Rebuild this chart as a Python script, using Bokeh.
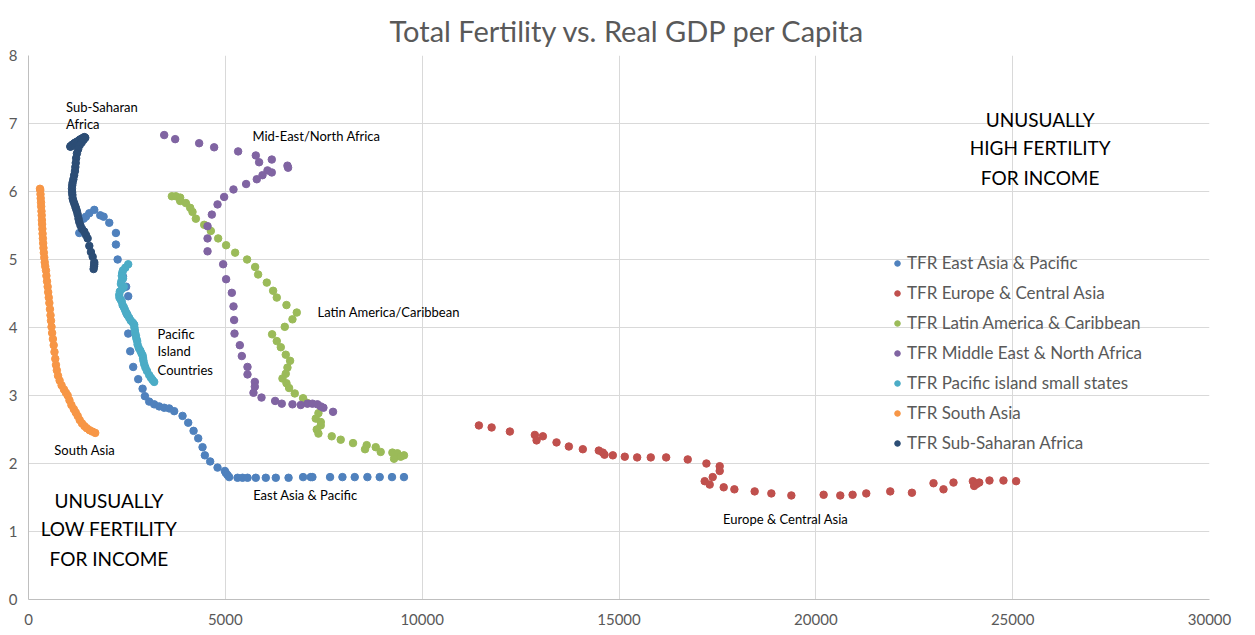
from bokeh.plotting import figure
from bokeh.models import Legend, LegendItem, FixedTicker, Range1d
from bokeh.core.properties import value
from bokeh.embed import file_html
from bokeh.resources import INLINE

FONT = "Lato"

# ---------------- data ----------------
series_names = ["TFR East Asia & Pacific", "TFR Europe & Central Asia",
                "TFR Latin America & Caribbean", "TFR Middle East & North Africa",
                "TFR Pacific island small states", "TFR South Asia",
                "TFR Sub-Saharan Africa"]
series_colors = ["#4F81BD", "#C0504D", "#9BBB59", "#8064A2", "#4BACC6", "#F79646", "#2C4D75"]

eap_gdp = [1290, 1400, 1459, 1544, 1671, 1823, 1908, 2052, 2221, 2221, 2264, 2400, 2480, 2533, 2500,
           2533, 2584, 2660, 2787, 2898, 2957, 3066, 3193, 3320, 3447, 3574, 3701, 3913, 4057, 4193,
           4311, 4421, 4480, 4615, 4802, 4988, 5013, 5056, 5097, 5310, 5437, 5564, 5774, 6028, 6282,
           6606, 6975, 7170, 7212, 7660, 7975, 8287, 8609, 8921, 9234, 9538]
eap_tfr = [5.39, 5.60, 5.63, 5.68, 5.73, 5.65, 5.63, 5.54, 5.39, 5.22, 5.00, 4.75, 4.60, 4.46, 4.20,
           3.91, 3.65, 3.42, 3.24, 3.10, 2.99, 2.91, 2.87, 2.84, 2.82, 2.81, 2.77, 2.70, 2.60, 2.48,
           2.37, 2.24, 2.12, 2.03, 1.94, 1.89, 1.86, 1.83, 1.80, 1.79, 1.79, 1.79, 1.79, 1.79, 1.79,
           1.79, 1.80, 1.80, 1.80, 1.80, 1.80, 1.80, 1.80, 1.80, 1.80, 1.80]

eca_gdp = [11441, 11764, 12228, 12862, 12906, 13066, 13413, 13726, 14081, 14487, 14589, 14632, 14843,
           15147, 15461, 15807, 16198, 16746, 17221, 17558, 17558, 17380, 17177, 17304, 17660, 17931,
           18446, 18870, 19378, 20198, 20621, 20934, 21281, 21890, 22441, 22989, 23243, 23497, 23989,
           24022, 24090, 24151, 24411, 24766, 25088]
eca_tfr = [2.56, 2.53, 2.47, 2.42, 2.34, 2.40, 2.31, 2.25, 2.21, 2.19, 2.16, 2.13, 2.12,
           2.10, 2.09, 2.09, 2.09, 2.06, 2.00, 1.96, 1.89, 1.80, 1.74, 1.69, 1.65, 1.62,
           1.59, 1.56, 1.53, 1.54, 1.53, 1.54, 1.56, 1.59, 1.57, 1.71, 1.62, 1.72, 1.74,
           1.67, 1.70, 1.72, 1.75, 1.75, 1.74]

lac_gdp = [3642, 3743, 3853, 3853, 3997, 4107, 4166, 4251, 4463, 4632, 4818, 5020, 5249, 5553, 5757,
           5833, 6053, 6214, 6307, 6553, 6815, 6705, 6510, 6188, 6307, 6409, 6535, 6645, 6578, 6535,
           6451, 6553, 6620, 6764, 6975, 7085, 7365, 7297, 7424, 7424, 7322, 7365, 7703, 7931, 8244,
           8591, 8549, 8820, 8946, 9243, 9370, 9538, 9454, 9285]
lac_tfr = [5.93, 5.93, 5.91, 5.86, 5.83, 5.76, 5.70, 5.60, 5.51, 5.42, 5.31, 5.21, 5.10, 5.00, 4.89,
           4.78, 4.66, 4.54, 4.44, 4.33, 4.22, 4.12, 4.01, 3.90, 3.80, 3.71, 3.60, 3.51, 3.41, 3.32,
           3.25, 3.18, 3.11, 3.03, 2.96, 2.89, 2.74, 2.66, 2.61, 2.56, 2.50, 2.44, 2.40, 2.35, 2.30,
           2.27, 2.21, 2.24, 2.17, 2.16, 2.15, 2.12, 2.10, 2.07]

mena_gdp = [3447, 3726, 4335, 4716, 5325, 5774, 5858, 6180, 6578, 6594, 6180, 6071, 5944, 5799, 5528,
            5207, 4970, 4802, 4657, 4548, 4548, 4548, 4945, 5020, 5165, 5208, 5223, 5233, 5368, 5419,
            5563, 5563, 5749, 5749, 5715, 5919, 6265, 6434, 6705, 6916, 7085, 7212, 7339, 7424, 7492,
            7736]
mena_tfr = [6.83, 6.77, 6.71, 6.65, 6.59, 6.53, 6.43, 6.47, 6.38, 6.35, 6.28, 6.31, 6.24, 6.18, 6.11,
            6.03, 5.92, 5.81, 5.66, 5.49, 5.31, 5.12, 4.93, 4.71, 4.51, 4.31, 4.11, 3.91, 3.74, 3.58,
            3.42, 3.31, 3.20, 3.13, 3.04, 2.97, 2.92, 2.88, 2.87, 2.86, 2.88, 2.88, 2.87, 2.84, 2.82,
            2.76]

pis_gdp = [2533, 2460, 2400, 2380, 2370, 2400, 2360, 2348, 2420, 2380, 2320, 2305, 2310, 2340, 2370,
           2390, 2420, 2450, 2480, 2517, 2560, 2600, 2650, 2686, 2690, 2700, 2710, 2728, 2740, 2760,
           2771, 2800, 2840, 2870, 2898, 2910, 2920, 2940, 2970, 3010, 3066, 3110, 3150, 3193]
pis_tfr = [4.93, 4.88, 4.84, 4.80, 4.76, 4.72, 4.68, 4.64, 4.60, 4.57, 4.53, 4.48, 4.44, 4.41, 4.38,
           4.33, 4.30, 4.26, 4.22, 4.18, 4.14, 4.10, 4.07, 4.04, 4.00, 3.96, 3.92, 3.88, 3.84, 3.80,
           3.75, 3.70, 3.66, 3.62, 3.59, 3.55, 3.51, 3.46, 3.41, 3.36, 3.30, 3.26, 3.23, 3.20]

sas_gdp = [292, 300, 305, 310, 318, 322, 330, 335, 340, 345, 352, 358, 365, 372, 380, 390, 400, 412,
           425, 444, 455, 470, 487, 500, 515, 530, 545, 560, 571, 585, 600, 620, 640, 660, 680, 698,
           720, 750, 790, 840, 900, 950, 995, 1040, 1090, 1150, 1200, 1249, 1300, 1360, 1420, 1480,
           1550, 1620, 1695]
sas_tfr = [6.04, 6.02, 5.96, 5.90, 5.84, 5.78, 5.71, 5.65, 5.58, 5.52, 5.45, 5.38, 5.31, 5.24, 5.17,
           5.10, 5.03, 4.96, 4.90, 4.84, 4.76, 4.68, 4.60, 4.52, 4.44, 4.36, 4.27, 4.18, 4.10, 4.01,
           3.92, 3.83, 3.74, 3.64, 3.54, 3.45, 3.37, 3.29, 3.22, 3.15, 3.09, 3.04, 3.00, 2.93, 2.86,
           2.80, 2.75, 2.70, 2.64, 2.59, 2.55, 2.52, 2.49, 2.47, 2.45]

ssa_gdp = [1062, 1080, 1070, 1100, 1120, 1150, 1170, 1190, 1210, 1230, 1260, 1280, 1300, 1330, 1360,
           1390, 1420, 1442, 1400, 1350, 1300, 1260, 1230, 1210, 1200, 1190, 1180, 1160, 1140, 1120,
           1110, 1104, 1108, 1115, 1121, 1140, 1165, 1190, 1206, 1230, 1250, 1270, 1290, 1320, 1360,
           1417, 1460, 1502, 1545, 1586, 1630, 1671, 1671, 1665, 1654]
ssa_tfr = [6.66, 6.67, 6.66, 6.68, 6.69, 6.70, 6.71, 6.72, 6.72, 6.73, 6.74, 6.75, 6.76, 6.77, 6.78,
           6.79, 6.80, 6.79, 6.76, 6.72, 6.68, 6.62, 6.56, 6.49, 6.42, 6.36, 6.30, 6.24, 6.18, 6.13,
           6.09, 6.04, 5.99, 5.95, 5.90, 5.86, 5.82, 5.78, 5.75, 5.71, 5.66, 5.60, 5.55, 5.50, 5.45,
           5.41, 5.36, 5.31, 5.20, 5.11, 5.04, 4.96, 4.93, 4.90, 4.86]

x_ticks = [0, 5000, 10000, 15000, 20000, 25000, 30000]
y_ticks = [0, 1, 2, 3, 4, 5, 6, 7, 8]

title_text = "Total Fertility vs. Real GDP per Capita"

# region labels (text, and their anchor in data units)
region_text = ["Sub-Saharan", "Africa", "Mid-East/North Africa", "Latin America/Caribbean",
               "Pacific", "Island", "Countries", "South Asia", "East Asia & Pacific",
               "Europe & Central Asia"]
region_x = [952, 952, 5690, 7340, 3279, 3279, 3279, 655, 5706, 17644]
region_y = [7.25, 7.00, 6.81, 4.23, 3.91, 3.65, 3.38, 2.20, 1.53, 1.19]

note_text = ["UNUSUALLY", "HIGH FERTILITY", "FOR INCOME", "UNUSUALLY", "LOW FERTILITY", "FOR INCOME"]
note_x = [25698, 25698, 25698, 2043, 2043, 2043]
note_y = [7.06, 6.64, 6.21, 1.46, 1.04, 0.61]

# ---------------- figure ----------------
p = figure(width=1255, height=635, output_backend="svg", toolbar_location=None,
           x_range=Range1d(0, 30000), y_range=Range1d(0, 8),
           min_border_left=28, min_border_right=46, min_border_top=55, min_border_bottom=36)
p.outline_line_color = None
p.background_fill_color = "white"

p.title.text = title_text
p.title.align = "left"
p.title.offset = 361
p.title.standoff = 16
p.title.text_font = FONT
p.title.text_font_size = "29px"
p.title.text_font_style = "normal"
p.title.text_color = "#595959"

for ax in (p.xaxis[0], p.yaxis[0]):
    ax.major_tick_line_color = None
    ax.minor_tick_line_color = None
    ax.major_tick_out = 0
    ax.major_tick_in = 0
    ax.minor_tick_out = 0
    ax.axis_line_color = "#BFBFBF"
    ax.major_label_text_font = FONT
    ax.major_label_text_font_size = "15px"
    ax.major_label_text_color = "#595959"
p.xaxis.ticker = FixedTicker(ticks=x_ticks)
p.yaxis.ticker = FixedTicker(ticks=y_ticks)
p.xaxis.major_label_standoff = 14
p.yaxis.major_label_standoff = 11
p.xgrid.grid_line_color = "#D9D9D9"
p.ygrid.grid_line_color = "#D9D9D9"

all_x = [eap_gdp, eca_gdp, lac_gdp, mena_gdp, pis_gdp, sas_gdp, ssa_gdp]
all_y = [eap_tfr, eca_tfr, lac_tfr, mena_tfr, pis_tfr, sas_tfr, ssa_tfr]

items = []
for name, col, xs, ys in zip(series_names, series_colors, all_x, all_y):
    r = p.scatter(xs, ys, size=7.5, color=col, line_color=col)
    items.append(LegendItem(label=name, renderers=[r]))

legend = Legend(items=items, location=(862, 146))
legend.label_text_font = FONT
legend.label_text_font_size = "17px"
legend.label_text_color = "#595959"
legend.border_line_color = None
legend.background_fill_alpha = 0
legend.padding = 0
legend.margin = 0
legend.spacing = 9
legend.glyph_height = 14
legend.glyph_width = 14
legend.label_height = 21
legend.label_standoff = 3
p.add_layout(legend)

p.text(x=region_x, y=region_y, text=region_text, text_font=value(FONT),
       text_font_size="13px", text_color="#000000", text_align="left", text_baseline="middle")
p.text(x=note_x, y=note_y, text=note_text, text_font=value(FONT),
       text_font_size="19px", text_color="#000000", text_align="center", text_baseline="middle")

open("out.html", "w").write(file_html(p, INLINE))
